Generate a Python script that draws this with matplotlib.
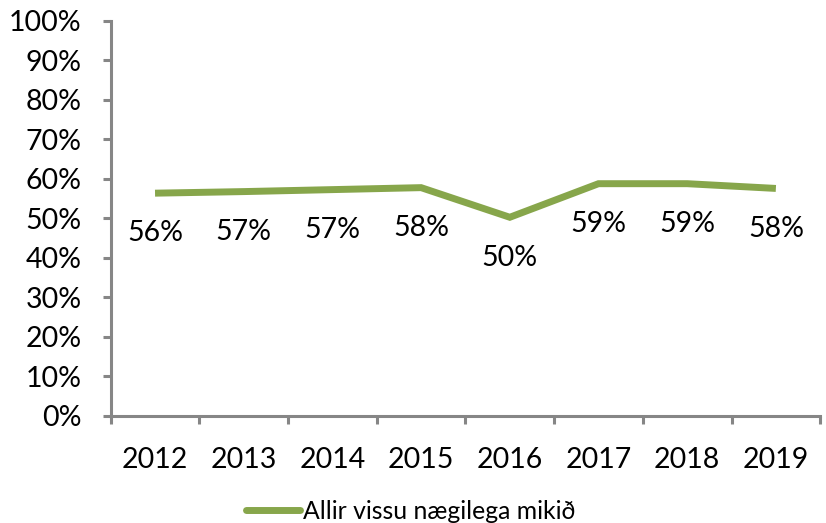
import matplotlib.pyplot as plt
import numpy as np
from matplotlib.ticker import FixedLocator, PercentFormatter
from matplotlib.lines import Line2D

plt.rcParams['font.family'] = ['Lato', 'DejaVu Sans']

years = ['2012', '2013', '2014', '2015', '2016', '2017', '2018', '2019']
share = [0.564, 0.568, 0.573, 0.578, 0.503, 0.588, 0.588, 0.576]
series_name = 'Allir vissu nægilega mikið'

green = '#87A64B'
axis_gray = '#868686'

fig = plt.figure(figsize=(8.26, 5.23), dpi=100)
ax = fig.add_axes([0.134, 0.2046, 0.859, 0.7554])

x = np.arange(len(years))
ax.plot(x, share, color=green, lw=5, solid_joinstyle='miter', solid_capstyle='butt')
for xi, v in zip(x, share):
    ax.annotate(f'{v:.0%}', (xi, v), xytext=(0, -29), textcoords='offset points',
                ha='center', va='center', fontsize=20.5)

ax.set_xlim(-0.5, len(years) - 0.5)
ax.set_ylim(0, 1)
ax.set_yticks(np.arange(0, 1.01, 0.1))
ax.yaxis.set_major_formatter(PercentFormatter(1.0, decimals=0))
ax.set_xticks(x)
ax.set_xticklabels(years)
ax.xaxis.set_minor_locator(FixedLocator(np.arange(-0.5, len(years), 1.0)))

for s in ['top', 'right']:
    ax.spines[s].set_visible(False)
for s in ['left', 'bottom']:
    ax.spines[s].set_color(axis_gray)
    ax.spines[s].set_linewidth(2.2)

ax.tick_params(axis='y', which='major', direction='out', length=6, width=2.2,
               color=axis_gray, labelsize=20.5, pad=15)
ax.tick_params(axis='x', which='major', length=0, labelsize=20.5, pad=22)
ax.tick_params(axis='x', which='minor', direction='out', length=6, width=2.2,
               color=axis_gray)

handle = Line2D([0], [0], color=green, lw=5, solid_capstyle='round')
fig.legend([handle], [series_name], loc='center', bbox_to_anchor=(0.497, 0.022),
           frameon=False, fontsize=17.8, handlelength=2.2, handletextpad=0.1)

fig.savefig('out.png', dpi=100)
